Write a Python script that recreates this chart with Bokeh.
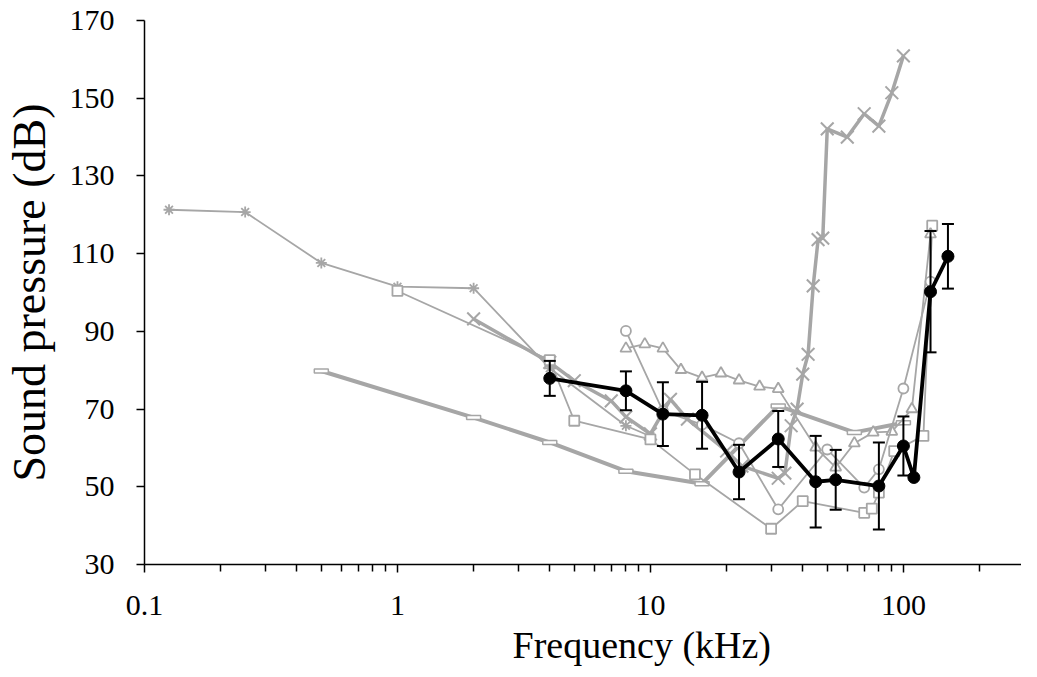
from bokeh.plotting import figure
from bokeh.models import Range1d, FixedTicker, CustomJSTickFormatter, Title
from bokeh.embed import file_html
from bokeh.resources import INLINE

# ---- data (frequency in kHz, sound pressure in dB) ----
freq_mean = [4, 8, 11.2, 16, 22.4, 32, 45, 54, 80, 100, 110, 128, 150]
spl_mean = [77.9, 74.7, 68.7, 68.4, 53.8, 62.3, 51.3, 51.8, 50.2, 60.5, 52.4, 100.2, 109.3]
err_mean = [4.5, 5.0, 8.2, 8.6, 7.0, 7.2, 11.8, 7.7, 11.2, 7.6, 0.0, 15.6, 8.3]

freq_ast = [0.125, 0.25, 0.5, 1, 2, 4, 8, 10]
spl_ast = [121.3, 120.7, 107.6, 101.5, 101.1, 80.5, 65.7, 63.0]

freq_sq = [1, 4, 5, 10, 15, 30, 40, 70, 75, 80, 92, 120, 130]
spl_sq = [100.4, 82.6, 67.0, 62.2, 53.2, 39.2, 46.3, 43.3, 44.4, 48.5, 59.2, 63.1, 117.2]

freq_tri = [8, 9.5, 11.2, 13.2, 16, 19, 22.4, 27, 32, 45, 54, 64, 76, 90, 108, 128]
spl_tri = [85.6, 86.7, 85.6, 80.1, 78.1, 79.2, 77.4, 75.8, 75.2, 60.1, 55.0, 61.2, 64.0, 64.2, 70.0, 115.0]

freq_cir = [8, 11.2, 16, 22.4, 32, 50, 70, 80, 100, 128]
spl_cir = [90.1, 69.5, 66.0, 61.2, 44.2, 59.6, 49.8, 54.5, 75.3, 102.8]

freq_x = [2, 4, 5, 7, 8, 10, 12, 14, 20, 23, 32, 34, 36, 38, 40, 42, 44, 46, 48, 50, 60, 70, 80, 90, 100]
spl_x = [93.2, 82.0, 77.3, 72.1, 68.0, 63.6, 72.5, 67.4, 59.2, 55.3, 52.2, 53.5, 65.7, 70.0, 79.0, 84.1,
         101.7, 113.6, 114.0, 142.1, 140.0, 146.0, 142.8, 151.4, 160.9]

freq_dash = [0.5, 2, 4, 8, 16, 32, 64, 100]
spl_dash = [79.8, 67.8, 61.4, 54.0, 50.8, 70.8, 64.0, 66.5]

x_major = [0.1, 1, 10, 100]
x_minor = [0.2, 0.3, 0.4, 0.5, 0.6, 0.7, 0.8, 0.9, 2, 3, 4, 5, 6, 7, 8, 9,
           20, 30, 40, 50, 60, 70, 80, 90, 200]
y_ticks = [30, 50, 70, 90, 110, 130, 150, 170]

x_title = "Frequency (kHz)"
y_title = "Sound pressure (dB)"

GREY = "#a6a6a6"
FONT = "Liberation Serif"

p = figure(width=1021, height=669, x_axis_type="log",
           x_range=Range1d(0.1, 293), y_range=Range1d(30, 170),
           output_backend="svg", toolbar_location=None,
           min_border_left=142, min_border_right=0, min_border_top=20, min_border_bottom=104)
p.outline_line_color = None
p.grid.visible = False
p.background_fill_color = "white"

# ---- grey series ----
p.line(freq_dash, spl_dash, line_color=GREY, line_width=4)
p.rect(freq_dash, spl_dash, width=14, height=4, width_units="screen", height_units="screen",
       fill_color="white", line_color=GREY, line_width=1.5)

p.line(freq_x, spl_x, line_color=GREY, line_width=3.5)
p.scatter(freq_x, spl_x, marker="x", size=18, line_color=GREY, line_width=2)

p.line(freq_ast, spl_ast, line_color=GREY, line_width=1.8)
p.scatter(freq_ast, spl_ast, marker="asterisk", size=11, line_color=GREY, line_width=1.8)

p.line(freq_sq, spl_sq, line_color=GREY, line_width=1.8)
p.scatter(freq_sq, spl_sq, marker="square", size=10, line_color=GREY, fill_color="white", line_width=1.8)

p.line(freq_tri, spl_tri, line_color=GREY, line_width=1.8)
p.scatter(freq_tri, spl_tri, marker="triangle", size=11, line_color=GREY, fill_color="white", line_width=1.8)

p.line(freq_cir, spl_cir, line_color=GREY, line_width=1.8)
p.scatter(freq_cir, spl_cir, marker="circle", size=10, line_color=GREY, fill_color="white", line_width=1.8)

# ---- mean with error bars ----
eb = [(f, s, e) for f, s, e in zip(freq_mean, spl_mean, err_mean) if e > 0]
eb_f = [t[0] for t in eb]
eb_lo = [t[1] - t[2] for t in eb]
eb_hi = [t[1] + t[2] for t in eb]
p.line(freq_mean, spl_mean, line_color="black", line_width=3.8)
p.segment(x0=eb_f, y0=eb_lo, x1=eb_f, y1=eb_hi, line_color="black", line_width=2)
p.scatter(eb_f, eb_lo, marker="dash", size=12, line_color="black", line_width=2)
p.scatter(eb_f, eb_hi, marker="dash", size=12, line_color="black", line_width=2)
p.scatter(freq_mean, spl_mean, marker="circle", size=12, fill_color="black", line_color="black")

# ---- axes ----
p.xaxis.ticker = FixedTicker(ticks=x_major, minor_ticks=x_minor)
p.xaxis.formatter = CustomJSTickFormatter(code="return tick.toString();")
p.yaxis.ticker = FixedTicker(ticks=y_ticks)

for ax in (p.xaxis, p.yaxis):
    ax.axis_line_color = "black"
    ax.axis_line_width = 1.5
    ax.major_tick_line_color = "black"
    ax.major_tick_line_width = 1.5
    ax.minor_tick_line_color = "black"
    ax.minor_tick_line_width = 1.5
    ax.major_tick_in = 0
    ax.major_tick_out = 8
    ax.minor_tick_in = 0
    ax.major_label_text_font = FONT
    ax.major_label_text_font_size = "30px"
    ax.major_label_text_color = "black"
    ax.axis_label_text_font = FONT
    ax.axis_label_text_font_style = "normal"
    ax.axis_label_text_color = "black"

p.xaxis.minor_tick_out = 7
p.yaxis.minor_tick_out = 0
p.xaxis.major_label_standoff = 23
p.yaxis.major_label_standoff = 22
p.yaxis.axis_label = y_title
p.yaxis.axis_label_text_font_size = "46px"
p.yaxis.axis_label_standoff = 12

# x-axis title, placed right of centre as in the reference
p.add_layout(Title(text=x_title, align="left", offset=368, standoff=8,
                   text_font=FONT, text_font_size="38px", text_font_style="normal",
                   text_line_height=0.6, text_color="black"), "below")

open("out.html", "w").write(file_html(p, INLINE))
